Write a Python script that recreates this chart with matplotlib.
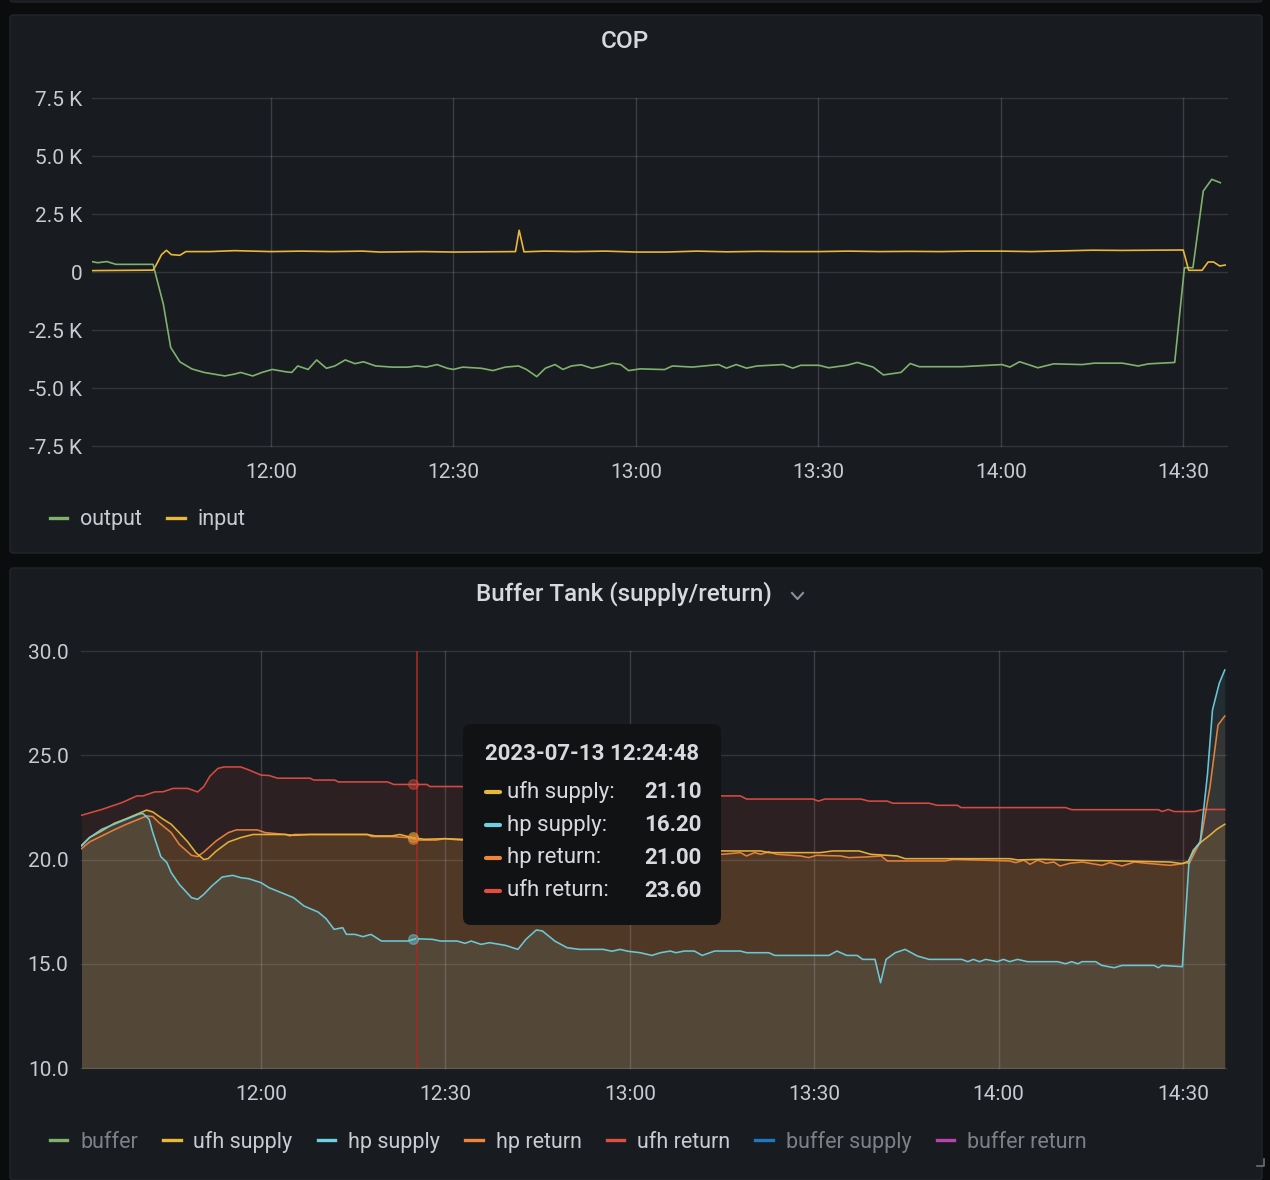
import numpy as np
import pandas as pd
import matplotlib
matplotlib.use('Agg')
import matplotlib.pyplot as plt
import matplotlib.dates as mdates
from matplotlib.lines import Line2D
from matplotlib.patches import FancyBboxPatch
from matplotlib.transforms import Affine2D
from matplotlib.ticker import FixedLocator, FuncFormatter

plt.rcParams['font.family'] = ['Roboto', 'DejaVu Sans']
plt.rcParams['axes.unicode_minus'] = False

BASE = pd.Timestamp('2023-07-13 11:30:00')

# ---------------- COP panel data (minutes after 11:30, watts) ----------------
cop_output_min = [0.5, 1.5, 3.0, 4.5, 10.6, 12.3, 13.5, 15.0, 17.0, 19.0, 22.4, 24.0, 25.0,
                  27.0, 28.5, 30.2, 32.4, 33.4, 34.4, 36.1, 37.5, 39.1, 40.5, 42.2, 43.8,
                  45.2, 47.2, 50.0, 52.5, 54.0, 55.5, 57.3, 59.0, 60.0, 61.5, 64.6, 66.5,
                  68.5, 70.7, 72.0, 73.7, 75.1, 76.7, 78.0, 79.4, 81.0, 82.8, 84.5, 86.1,
                  87.5, 88.8, 90.7, 94.7, 96.0, 99.3, 103.6, 104.9, 106.5, 108.2, 109.9,
                  114.2, 115.8, 117.1, 120.1, 121.7, 124.7, 126.4, 129.0, 130.7, 133.6,
                  135.1, 136.6, 143.6, 150.2, 151.5, 153.1, 156.1, 158.7, 163.4, 165.4,
                  170.0, 172.6, 174.3, 178.6, 180.2, 181.6, 183.3, 184.7, 186.1]
cop_output_w = [450, 400, 450, 330, 330, -1400, -3250, -3870, -4180, -4330, -4480, -4400, -4330,
                -4480, -4330, -4200, -4300, -4330, -4050, -4200, -3790, -4150, -4050, -3790, -3950,
                -3870, -4050, -4100, -4100, -4050, -4100, -3990, -4150, -4200, -4100, -4150, -4250,
                -4100, -4050, -4200, -4510, -4150, -3990, -4200, -4050, -4000, -4150, -4050, -3930,
                -3990, -4250, -4175, -4206, -4051, -4098, -3990, -4144, -3990, -4144, -4051,
                -3990, -4144, -4021, -4021, -4128, -4021, -3898, -4098, -4436, -4327,
                -3944, -4082, -4082, -3990, -4098, -3867, -4128, -3959, -3990, -3929,
                -3929, -4051, -3959, -3898, 185, 185, 3490, 3995, 3850]

cop_input_min = [0.5, 10.6, 11.1, 12.0, 12.8, 13.6, 15.0, 16.0, 20.0, 24.0, 27.0, 30.0, 35.0,
                 40.0, 45.0, 48.0, 55.0, 60.0, 65.0, 70.2, 70.8, 71.6, 75.0, 80.0, 85.0,
                 90.0, 95.0, 100.0, 105.0, 110.0, 115.0, 120.0, 125.0, 130.0, 135.0, 140.0,
                 145.0, 150.0, 155.0, 160.0, 165.0, 170.0, 175.0, 180.0, 180.9, 183.1,
                 184.1, 185.0, 186.0, 186.9]
cop_input_w = [60, 80, 300, 750, 935, 750, 720, 880, 880, 920, 900, 880, 900,
               880, 900, 860, 880, 860, 870, 880, 1800, 870, 900, 880, 900,
               860, 860, 900, 870, 890, 880, 880, 900, 880, 890, 880,
               900, 900, 880, 910, 940, 930, 940, 948, 73, 73,
               431, 431, 259, 300]

# ---------------- Buffer tank panel data (minutes after 11:30, deg C) ----------------
ufh_return_min = [0.8, 4.1, 7.4, 9.8, 10.8, 12.7, 14.1, 15.7, 18.1, 19.7, 20.7, 21.7, 23.0,
                  24.0, 26.7, 28.0, 30.0, 31.3, 32.7, 38.0, 38.6, 42.0, 42.6, 50.6, 51.6,
                  57.0, 57.5, 62.5, 80.0, 100.0, 105.1, 108.0, 109.0, 119.8, 120.7, 121.7,
                  127.6, 128.9, 131.9, 132.8, 138.7, 140.0, 143.3, 143.9, 160.9, 161.9,
                  176.0, 176.6, 177.6, 178.6, 181.9, 183.2, 186.8]
ufh_return_c = [22.12, 22.40, 22.73, 23.05, 23.05, 23.24, 23.25, 23.41, 23.41, 23.24, 23.50, 24.00, 24.37,
                24.44, 24.44, 24.30, 24.05, 24.03, 23.90, 23.90, 23.81, 23.81, 23.72, 23.72, 23.60,
                23.60, 23.50, 23.50, 23.30, 23.10, 23.05, 23.05, 22.90, 22.90, 22.80, 22.90,
                22.90, 22.80, 22.80, 22.70, 22.70, 22.60, 22.60, 22.49, 22.49, 22.39,
                22.39, 22.30, 22.40, 22.30, 22.30, 22.40, 22.40]

ufh_supply_min = [0.8, 2.1, 4.1, 6.1, 8.1, 10.1, 11.4, 12.4, 14.1, 15.4, 16.7, 18.1, 19.4,
                  20.7, 21.4, 22.7, 24.7, 26.7, 28.7, 34.0, 35.4, 38.0, 47.3, 48.6, 51.3,
                  52.6, 54.6, 56.6, 59.9, 62.5, 80.0, 100.0, 105.1, 111.3, 112.6, 121.0,
                  123.0, 127.3, 129.2, 133.5, 134.8, 151.8, 153.1, 157.0, 165.0, 170.0,
                  177.9, 179.9, 180.9, 181.7, 183.0, 184.4, 185.5, 186.8]
ufh_supply_c = [20.68, 21.05, 21.37, 21.73, 21.96, 22.21, 22.37, 22.28, 21.93, 21.69, 21.29, 20.84, 20.33,
                20.00, 20.04, 20.40, 20.84, 21.05, 21.20, 21.20, 21.16, 21.20, 21.20, 21.13, 21.13,
                21.20, 21.05, 20.97, 21.00, 20.97, 20.80, 20.50, 20.41, 20.41, 20.33, 20.33,
                20.41, 20.41, 20.25, 20.17, 20.04, 20.04, 19.98, 20.01, 19.95, 19.93,
                19.88, 19.80, 19.92, 20.46, 20.85, 21.17, 21.45, 21.69]

hp_return_min = [0.8, 2.1, 4.1, 6.1, 8.1, 10.1, 11.4, 12.4, 13.4, 15.4, 16.7, 18.7, 19.7,
                 20.7, 22.7, 24.7, 26.0, 29.4, 30.7, 34.0, 34.7, 35.4, 47.3, 48.0, 51.3,
                 53.9, 55.9, 58.5, 59.9, 62.5, 80.0, 100.0, 105.1, 108.0, 109.0, 110.3,
                 111.3, 112.6, 113.9, 117.8, 119.1, 120.4, 124.3, 125.6, 128.3, 130.9,
                 131.9, 141.3, 142.6, 151.8, 152.8, 154.1, 155.1, 156.4, 157.7, 159.0,
                 160.0, 161.6, 163.6, 166.8, 168.1, 170.1, 172.1, 174.0, 177.9, 179.2,
                 180.5, 181.0, 182.8, 183.1, 184.4, 185.7, 186.8]
hp_return_c = [20.52, 20.84, 21.13, 21.42, 21.69, 21.93, 22.09, 22.06, 21.77, 21.29, 20.73, 20.20, 20.14,
               20.36, 20.89, 21.29, 21.42, 21.42, 21.29, 21.20, 21.13, 21.20, 21.20, 21.10, 21.10,
               21.05, 20.93, 20.93, 21.00, 20.93, 20.60, 20.35, 20.25, 20.33, 20.17, 20.33,
               20.25, 20.37, 20.25, 20.17, 20.09, 20.20, 20.17, 20.09, 20.12, 20.17,
               19.93, 19.93, 20.01, 19.93, 19.85, 19.97, 19.77, 19.97, 19.82, 19.88,
               19.69, 19.82, 19.88, 19.72, 19.85, 19.69, 19.88, 19.82, 19.72, 19.77,
               19.85, 19.80, 20.85, 21.26, 23.49, 26.45, 26.88]

hp_supply_min = [0.8, 2.1, 4.1, 6.1, 8.1, 10.1, 10.8, 11.8, 12.4, 13.7, 14.7, 15.4, 16.7,
                 18.7, 19.7, 20.7, 22.0, 23.7, 25.4, 26.7, 28.0, 30.0, 31.3, 33.3, 35.3,
                 37.0, 39.3, 40.6, 41.9, 43.3, 43.9, 45.3, 46.6, 47.9, 49.6, 53.9, 55.2,
                 57.9, 59.2, 61.9, 63.2, 64.2, 65.8, 67.2, 69.8, 71.8, 73.1, 74.8, 75.8,
                 77.8, 79.8, 81.8, 85.7, 87.1, 88.4, 89.7, 91.7, 93.6, 95.0, 96.6, 97.5,
                 98.9, 100.5, 101.8, 103.8, 108.0, 109.0, 112.6, 113.6, 122.4, 123.7,
                 125.3, 127.0, 127.9, 129.9, 130.8, 131.7, 133.2, 134.8, 136.8, 138.7,
                 144.0, 145.0, 145.9, 146.9, 147.9, 149.8, 150.8, 151.8, 153.1, 154.7,
                 159.6, 160.9, 161.9, 162.9, 163.6, 165.8, 166.8, 168.8, 170.1, 175.3,
                 176.0, 176.6, 179.9, 181.0, 182.0, 182.8, 184.0, 184.8, 185.9, 186.8]
hp_supply_c = [20.65, 21.05, 21.45, 21.69, 21.93, 22.17, 22.21, 21.93, 21.29, 20.14, 19.85, 19.37, 18.81,
               18.17, 18.09, 18.33, 18.73, 19.16, 19.24, 19.13, 19.08, 18.89, 18.65, 18.41, 18.17,
               17.77, 17.48, 17.16, 16.65, 16.73, 16.41, 16.41, 16.30, 16.41, 16.09, 16.09, 16.20,
               16.17, 16.09, 16.09, 15.98, 16.09, 15.93, 16.01, 15.88, 15.69, 16.17, 16.62, 16.57,
               16.09, 15.77, 15.69, 15.69, 15.60, 15.69, 15.60, 15.53, 15.40, 15.53, 15.61, 15.53,
               15.61, 15.61, 15.40, 15.61, 15.61, 15.53, 15.53, 15.40, 15.40, 15.61,
               15.40, 15.40, 15.21, 15.21, 14.09, 15.21, 15.53, 15.69, 15.37, 15.21,
               15.21, 15.10, 15.21, 15.10, 15.21, 15.10, 15.21, 15.10, 15.21, 15.10,
               15.10, 15.00, 15.10, 15.00, 15.10, 15.10, 14.92, 14.81, 14.92, 14.92,
               14.81, 14.92, 14.86, 19.98, 20.54, 20.85, 24.13, 27.17, 28.45, 29.09]

buffer_legend = ['buffer', 'ufh supply', 'hp supply', 'hp return', 'ufh return',
                 'buffer supply', 'buffer return']
buffer_hidden = ['buffer', 'buffer supply', 'buffer return']

cop_yticks = [-7500, -5000, -2500, 0, 2500, 5000, 7500]
buf_yticks = [10, 15, 20, 25, 30]

hover_label = '2023-07-13 12:24:48'
hover_min = 54.8
cursor_min = 55.4
hover_series = ['ufh supply', 'hp supply', 'hp return', 'ufh return']
hover_values = [21.10, 16.20, 21.00, 23.60]

# ---------------- styling ----------------
COL = {'output': '#7EB26D', 'input': '#EAB839',
       'buffer': '#7EB26D', 'ufh supply': '#EAB839', 'hp supply': '#6ED0E0',
       'hp return': '#EF843C', 'ufh return': '#E24D42', 'buffer supply': '#1F78C1',
       'buffer return': '#BA43A9'}
BG = '#0b0c0e'
PANEL = '#181b1f'
TXT = '#c9cbd2'
TITLE = '#d8d9de'
DIM = '#7e8088'
GRID = '#ccccdc'


def to_time(m):
    return (BASE + pd.to_timedelta(np.asarray(m, dtype=float), unit='min')).to_numpy()


W, H = 1270, 1180
fig = plt.figure(figsize=(W / 100, H / 100), dpi=100, facecolor=BG)
px = Affine2D().scale(1 / W, -1 / H).translate(0, 1) + fig.transFigure

# panels
for (x0, y0, w, h) in [(10, -20, 1252, 22), (10, 15, 1252, 538), (10, 568, 1252, 612)]:
    fig.patches.append(FancyBboxPatch((x0, y0), w, h, boxstyle='round,pad=0,rounding_size=3',
                                      transform=px, fc=PANEL, ec='#22252a', lw=1, zorder=-5))


def style_axes(ax):
    ax.set_facecolor('none')
    for s in ax.spines.values():
        s.set_visible(False)
    ax.tick_params(length=0, colors=TXT, labelsize=15)
    ax.xaxis.set_major_locator(mdates.MinuteLocator(byminute=[0, 30]))
    ax.xaxis.set_major_formatter(mdates.DateFormatter('%H:%M'))
    ax.grid(True, axis='y', color=GRID, alpha=0.15, lw=1)
    ax.grid(True, axis='x', color=GRID, alpha=0.2, lw=1)
    ax.set_axisbelow(True)


# ---------------- COP axes ----------------
ax1 = fig.add_axes([92 / W, 1 - 446 / H, (1227 - 92) / W, (446 - 98) / H])
style_axes(ax1)
ax1.plot(to_time(cop_output_min), cop_output_w, color=COL['output'], lw=1.2, zorder=2)
ax1.plot(to_time(cop_input_min), cop_input_w, color=COL['input'], lw=1.2, zorder=2)
ax1.set_xlim(to_time([0.56, 187.2]))
ax1.set_ylim(-7500, 7500)
ax1.yaxis.set_major_locator(FixedLocator(cop_yticks))
ax1.yaxis.set_major_formatter(FuncFormatter(lambda v, p: '0' if v == 0 else f'{v / 1000:.1f} K'))
ax1.tick_params(axis='x', pad=12)
ax1.tick_params(axis='y', pad=7)
for gl in ax1.get_ygridlines() + ax1.get_xgridlines():
    gl.set_clip_on(False)

fig.text(625 / W, 1 - 41 / H, 'COP', ha='center', va='center', fontsize=17.5,
         fontweight='medium', color=TITLE)

leg1 = ax1.legend(handles=[Line2D([], [], color=COL[k], lw=2.4) for k in ['output', 'input']],
                  labels=['output', 'input'], loc='center left', bbox_to_anchor=(50, 520),
                  bbox_transform=px, ncol=2, frameon=False, handlelength=0.8,
                  handletextpad=0.6, columnspacing=1.18, borderaxespad=0, borderpad=0,
                  fontsize=15.5)
for t in leg1.get_texts():
    t.set_color(TXT)

# ---------------- Buffer tank axes ----------------
ax2 = fig.add_axes([81 / W, 1 - 1068 / H, (1226 - 81) / W, (1068 - 651) / H])
style_axes(ax2)
series = [('ufh return', ufh_return_min, ufh_return_c),
          ('hp return', hp_return_min, hp_return_c),
          ('ufh supply', ufh_supply_min, ufh_supply_c),
          ('hp supply', hp_supply_min, hp_supply_c)]
for name, tm, vals in series:
    ax2.fill_between(to_time(tm), vals, 0, color=COL[name], alpha=0.1, lw=0, zorder=0.3)
for name, tm, vals in series:
    ax2.plot(to_time(tm), vals, color=COL[name], lw=1.15, alpha=0.95, zorder=2)
ax2.set_xlim(to_time([0.72, 187.0]))
ax2.set_ylim(10, 30)
ax2.yaxis.set_major_locator(FixedLocator(buf_yticks))
ax2.yaxis.set_major_formatter(FuncFormatter(lambda v, p: f'{v:.1f}'))
ax2.tick_params(axis='x', pad=12)
ax2.tick_params(axis='y', pad=9)
for gl in ax2.get_ygridlines() + ax2.get_xgridlines():
    gl.set_clip_on(False)

# hover cursor + markers
ax2.axvline(to_time([cursor_min])[0], color='#a12b23', lw=1.2, zorder=2.5)
for name, v in zip(hover_series, hover_values):
    ax2.plot(to_time([hover_min]), [v], 'o', ms=7, mfc=COL[name], mec=COL[name],
             alpha=0.45, zorder=3)

fig.text(624 / W, 1 - 594 / H, 'Buffer Tank (supply/return)', ha='center', va='center',
         fontsize=17.5, fontweight='medium', color=TITLE)
fig.add_artist(Line2D([792, 797.5, 803], [593, 599, 593], transform=px, color='#8e9099', lw=1.5))
fig.add_artist(Line2D([1257, 1264, 1264], [1166, 1166, 1159], transform=px, color='#6e7079', lw=1.2))

leg2 = ax2.legend(handles=[Line2D([], [], color=COL[k], lw=2.4) for k in buffer_legend],
                  labels=buffer_legend, loc='center left', bbox_to_anchor=(50, 1142),
                  bbox_transform=px, ncol=len(buffer_legend), frameon=False, handlelength=0.8,
                  handletextpad=0.6, columnspacing=1.18, borderaxespad=0, borderpad=0,
                  fontsize=15.5)
for t, k in zip(leg2.get_texts(), buffer_legend):
    t.set_color(DIM if k in buffer_hidden else TXT)

# tooltip
fig.patches.append(FancyBboxPatch((463, 724), 258, 201, boxstyle='round,pad=0,rounding_size=8',
                                  transform=px, fc='#111214', ec='none', zorder=5))
fig.text(485 / W, 1 - 754 / H, hover_label, ha='left', va='center', fontsize=16,
         fontweight='bold', color=TITLE, zorder=6)
for i, (name, v) in enumerate(zip(hover_series, hover_values)):
    y = 792 + i * 33
    fig.add_artist(Line2D([486, 500], [y, y], transform=px, color=COL[name], lw=3,
                          solid_capstyle='round', zorder=6))
    fig.text(507 / W, 1 - y / H, name + ':', ha='left', va='center', fontsize=16,
             color=TITLE, zorder=6)
    fig.text(702 / W, 1 - y / H, f'{v:.2f}', ha='right', va='center', fontsize=16,
             fontweight='bold', color=TITLE, zorder=6)

fig.savefig('out.png', dpi=100, facecolor=BG)
